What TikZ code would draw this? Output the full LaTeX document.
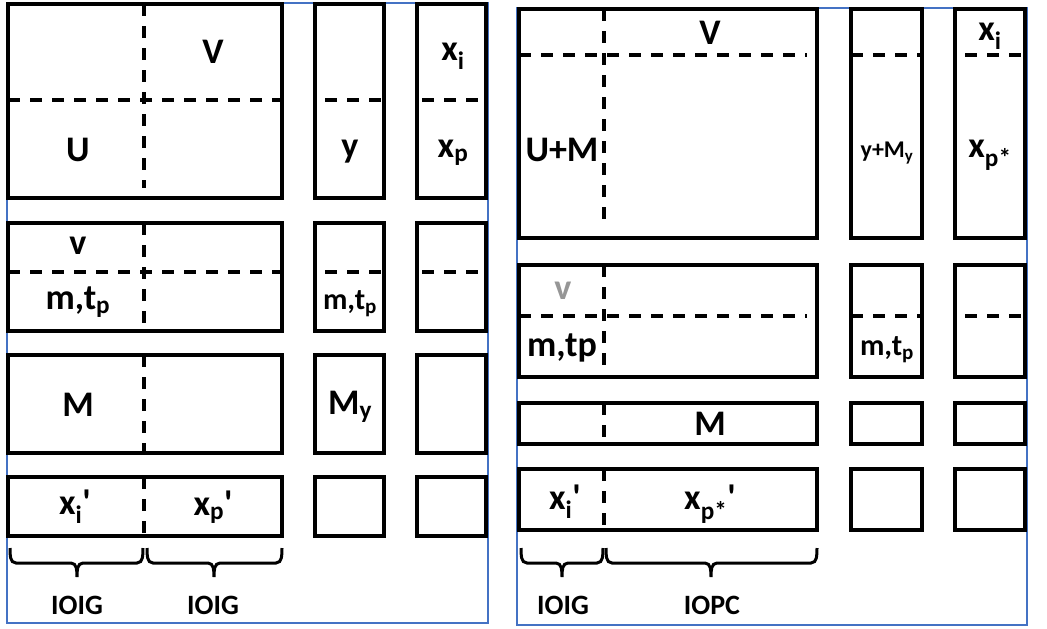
\documentclass[tikz,border=0pt]{standalone}
\usepackage{fontspec}
\setmainfont{Carlito}
\usetikzlibrary{fit}
\definecolor{framecol}{RGB}{68,114,196}
\definecolor{softgray}{RGB}{150,150,150}

\begin{document}
\begin{tikzpicture}[x=1pt,y=-1pt]
		\tikzstyle{every node}=[font=\bfseries\fontsize{36}{40}\selectfont]
		\tikzstyle{blk}=[draw,line width=3.5pt,inner sep=0pt,outer sep=0pt]
		\tikzstyle{part}=[line width=3.5pt,dash pattern=on 12pt off 10pt]
		\tikzstyle{panel}=[draw=framecol,line width=2pt]
		\tikzstyle{brc}=[line width=3pt]
		\tikzstyle{mid}=[font=\bfseries\fontsize{30}{34}\selectfont]
		\tikzstyle{tiny}=[font=\bfseries\fontsize{24}{28}\selectfont]
		\tikzstyle{lbl}=[font=\bfseries\fontsize{28}{32}\selectfont]
		
		\useasboundingbox (0,0) rectangle (1047,629);
		
		% left panel
		\draw[panel] (7,3) rectangle (488,623);
		\foreach \n/\t/\b in {1/4/198, 2/223/331, 3/355/453, 4/477/536} {
			\node[blk,fit={(8,\t) (282,\b)}] (L\n a) {};
			\node[blk,fit={(315,\t) (384,\b)}] (L\n b) {};
			\node[blk,fit={(417,\t) (486,\b)}] (L\n c) {};
		}
		\draw[part] (144,4) -- (144,188);
		\draw[part] (144,223) -- (144,331);
		\draw[part] (144,355) -- (144,453);
		\draw[part] (144,477) -- (144,536);
		\draw[part] (L1a.west |- 0,100) -- (280,100);
		\draw[part] (325,100) -- (L1b.east |- 0,100);
		\draw[part] (422,100) -- (L1c.east |- 0,100);
		\draw[part] (L2a.west |- 0,272) -- (280,272);
		\draw[part] (325,272) -- (L2b.east |- 0,272);
		\draw[part] (422,272) -- (L2c.east |- 0,272);
		
		\node (lV) at (213,52) {V};
		\node (lU) at (78,150) {U};
		\node (ly) at (350,152) {y};
		\node (lxi) at (453,56) {x\textsubscript{i}};
		\node (lxp) at (453,153) {x\textsubscript{p}};
		\node (lv) at (78,246) {v};
		\node (lmt) at (78,302) {m,t\textsubscript{p}};
		\node[mid] (lmt2) at (350,304) {m,t\textsubscript{p}};
		\node (lM) at (78,405) {M};
		\node (lMy) at (350,407) {M\textsubscript{y}};
		\node (lxi2) at (75,507) {x\textsubscript{i}\textquotesingle};
		\node (lxp2) at (213,507) {x\textsubscript{p}\textquotesingle};
		
		% group braces
		\foreach \a/\m/\b in {10/77/143, 147/214/282, 521/562/603, 606/711/817} {
			\draw[brc] (\a,548) to[out=-90,in=180] (\a+6,563) -- (\m-6,563)
				to[out=0,in=90] (\m,577) to[out=90,in=180] (\m+6,563)
				-- (\b-6,563) to[out=0,in=-90] (\b,548);
		}
		\node[lbl] (lg1) at (77,605) {IOIG};
		\node[lbl] (lg2) at (213,605) {IOIG};
		
		% right panel
		\draw[panel] (517,8) rectangle (1027,625);
		\foreach \n/\t/\b in {1/9/238, 2/265/377, 3/403/444, 4/469/530} {
			\node[blk,fit={(519,\t) (817,\b)}] (R\n a) {};
			\node[blk,fit={(851,\t) (922,\b)}] (R\n b) {};
			\node[blk,fit={(955,\t) (1025,\b)}] (R\n c) {};
		}
		\draw[part] (604,9) -- (604,227);
		\draw[part] (604,265) -- (604,377);
		\draw[part] (604,403) -- (604,444);
		\draw[part] (604,469) -- (604,530);
		\draw[part] (R1a.west |- 0,55) -- (807,55);
		\draw[part] (R1b.west |- 0,55) -- (R1b.east |- 0,55);
		\draw[part] (965,55) -- (R1c.east |- 0,55);
		\draw[part] (R2a.west |- 0,316) -- (807,316);
		\draw[part] (R2b.west |- 0,316) -- (R2b.east |- 0,316);
		\draw[part] (965,316) -- (R2c.east |- 0,316);
		
		\node (rV) at (710,33) {V};
		\node (rUM) at (562,150) {U+M};
		\node[tiny] (ryM) at (887,153) {y+M\textsubscript{y}};
		\node (rxi) at (990,36) {x\textsubscript{i}};
		\node (rxp) at (990,155) {x\textsubscript{p*}};
		\node[text=softgray] (rv) at (563,291) {v};
		\node (rmt) at (562,348) {m,tp};
		\node[mid] (rmt2) at (887,350) {m,t\textsubscript{p}};
		\node (rM) at (710,424) {M};
		\node (rxi2) at (565,502) {x\textsubscript{i}\textquotesingle};
		\node (rxp2) at (710,504) {x\textsubscript{p*}\textquotesingle};
		
		\node[lbl] (rg1) at (563,605) {IOIG};
		\node[lbl] (rg2) at (712,605) {IOPC};
\end{tikzpicture}
\end{document}
